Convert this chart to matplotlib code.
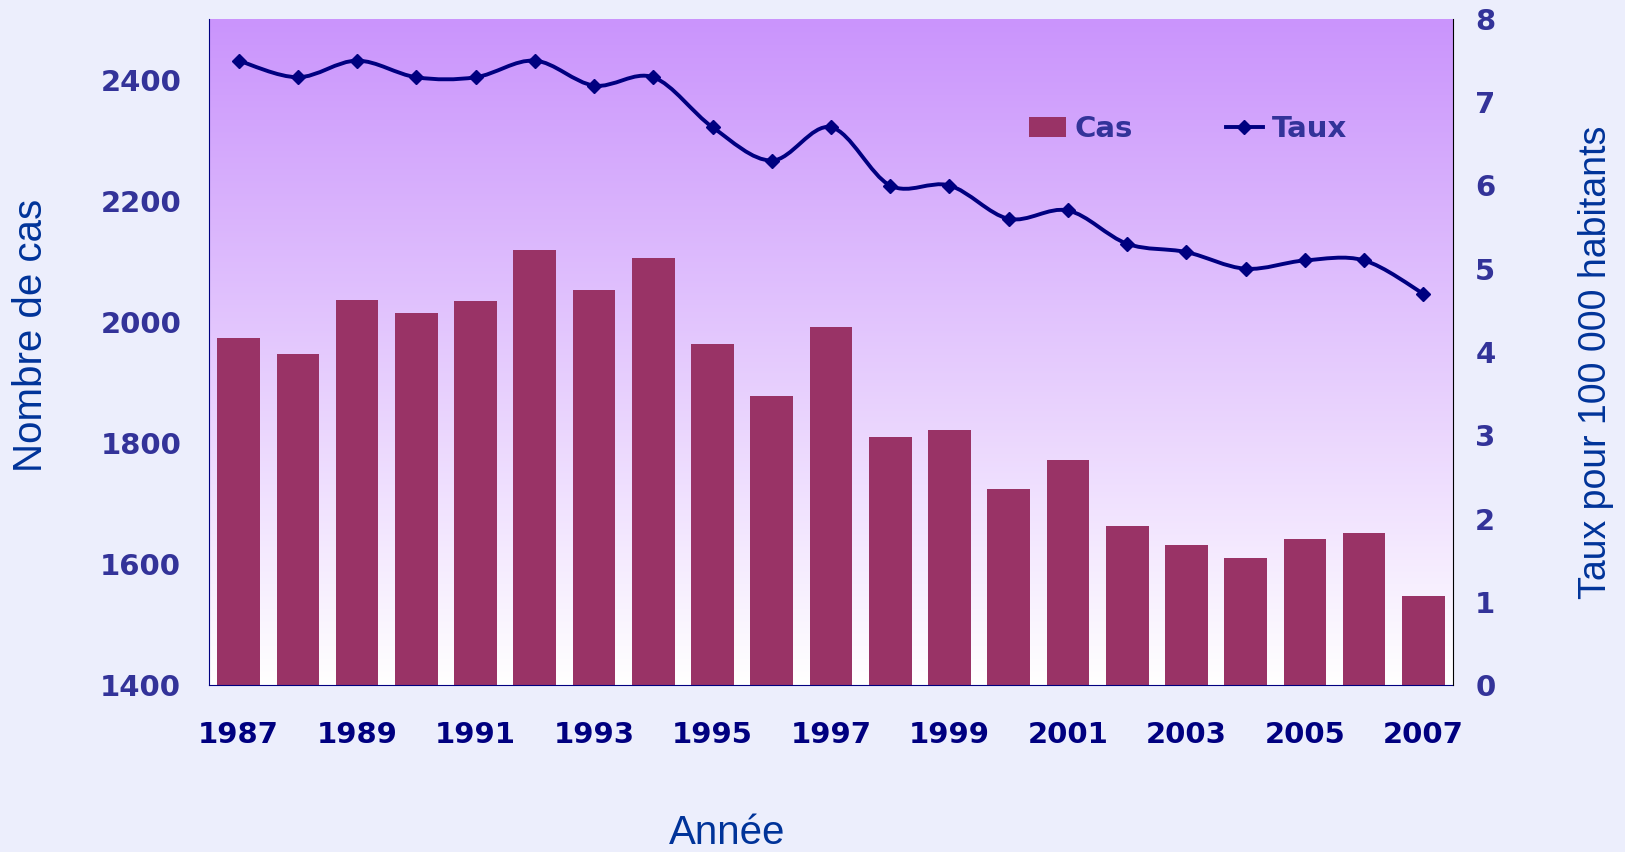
import numpy as np
import matplotlib
matplotlib.use("Agg")
import matplotlib.pyplot as plt
from matplotlib.path import Path
from matplotlib.patches import PathPatch, Patch
from matplotlib.lines import Line2D

# Data
annees = [1987, 1988, 1989, 1990, 1991, 1992, 1993, 1994, 1995, 1996, 1997,
          1998, 1999, 2000, 2001, 2002, 2003, 2004, 2005, 2006, 2007]
cas = [1973, 1946, 2036, 2014, 2035, 2118, 2052, 2106, 1963, 1877, 1992,
       1809, 1821, 1723, 1771, 1663, 1631, 1610, 1641, 1651, 1547]
taux = [7.5, 7.3, 7.5, 7.3, 7.3, 7.5, 7.2, 7.3, 6.7, 6.3, 6.7,
        6.0, 6.0, 5.6, 5.7, 5.3, 5.2, 5.0, 5.1, 5.1, 4.7]
xticks_lbl = [1987, 1989, 1991, 1993, 1995, 1997, 1999, 2001, 2003, 2005, 2007]

bar_col = '#993366'
line_col = '#000080'
tick_col = '#333399'
label_col = '#003399'

fig = plt.figure(figsize=(16.25, 8.52), dpi=100)
fig.patch.set_facecolor('#ECEEFC')
ax = fig.add_axes([209 / 1625, 1 - 685 / 852, (1453 - 209) / 1625, (685 - 19) / 852])
ax2 = ax.twinx()

# vertical gradient background (purple at top -> white at bottom)
grad = np.linspace(0, 1, 256).reshape(-1, 1)
top = np.array([202, 148, 252]) / 255
bot = np.array([255, 255, 255]) / 255
img = top[None, None, :] * grad[:, :, None] + bot[None, None, :] * (1 - grad[:, :, None])
ax.imshow(img, extent=[0, 1, 0, 1], transform=ax.transAxes, aspect='auto',
          origin='lower', zorder=0)

ax.bar(annees, cas, width=0.72, color=bar_col, zorder=2)
ax.set_xlim(1986.5, 2007.5)
ax.set_ylim(1400, 2500)
ax.set_yticks([1400, 1600, 1800, 2000, 2200, 2400])
ax.set_xticks(xticks_lbl)

# smoothed line (Catmull-Rom -> cubic Bezier segments), like Excel's smooth line
x = np.array(annees, dtype=float)
y = np.array(taux, dtype=float)
verts = [(x[0], y[0])]
codes = [Path.MOVETO]
n = len(x)
for i in range(n - 1):
    p0 = np.array([x[max(i - 1, 0)], y[max(i - 1, 0)]])
    p1 = np.array([x[i], y[i]])
    p2 = np.array([x[i + 1], y[i + 1]])
    p3 = np.array([x[min(i + 2, n - 1)], y[min(i + 2, n - 1)]])
    c1 = p1 + (p2 - p0) / 6
    c2 = p2 - (p3 - p1) / 6
    verts += [tuple(c1), tuple(c2), tuple(p2)]
    codes += [Path.CURVE4] * 3
ax2.add_patch(PathPatch(Path(verts, codes), facecolor='none', edgecolor=line_col,
                        lw=2.8, zorder=3))
ax2.plot(annees, taux, linestyle='none', marker='D', markersize=7,
         color=line_col, zorder=4)
ax2.set_ylim(0, 8)
ax2.set_yticks(range(0, 9))
ax2.patch.set_visible(False)

for a in (ax, ax2):
    a.spines['top'].set_visible(False)
    a.tick_params(length=0)
ax.spines['left'].set_color(line_col)
ax.spines['bottom'].set_color(line_col)
ax.spines['right'].set_visible(False)
ax2.spines['left'].set_visible(False)
ax2.spines['bottom'].set_visible(False)
ax2.spines['right'].set_color('black')

ax.tick_params(axis='y', labelsize=21, labelcolor=tick_col, pad=20)
ax.tick_params(axis='x', labelsize=21, labelcolor=line_col, pad=26)
ax2.tick_params(axis='y', labelsize=21, labelcolor=tick_col, pad=16)
for lbl in ax.get_xticklabels() + ax.get_yticklabels() + ax2.get_yticklabels():
    lbl.set_fontweight('bold')

fig.text(31 / 1625, 1 - 335 / 852, 'Nombre de cas', rotation=90, ha='center', va='center',
         fontsize=29, color=label_col, family='Liberation Sans')
fig.text(727 / 1625, 1 - 833 / 852, 'Année', ha='center', va='center',
         fontsize=29, color=label_col, family='Liberation Sans')
fig.text(1596 / 1625, 1 - 362 / 852, 'Taux pour 100 000 habitants', rotation=90,
         ha='center', va='center', fontsize=27, color=label_col, family='Liberation Sans')

handles = [Patch(facecolor=bar_col, edgecolor='none'),
           Line2D([], [], color=line_col, lw=2.8, marker='D', markersize=7)]
leg = ax2.legend(handles, ['Cas', 'Taux'], ncol=2, frameon=False,
                 loc='center', bbox_to_anchor=((1188 - 209) / 1244, (685 - 129) / 666),
                 prop={'size': 21, 'weight': 'bold'}, columnspacing=3.2,
                 handlelength=1.25, handletextpad=0.3)
for t in leg.get_texts():
    t.set_color(tick_col)

fig.savefig('out.png', dpi=100, facecolor=fig.get_facecolor())
